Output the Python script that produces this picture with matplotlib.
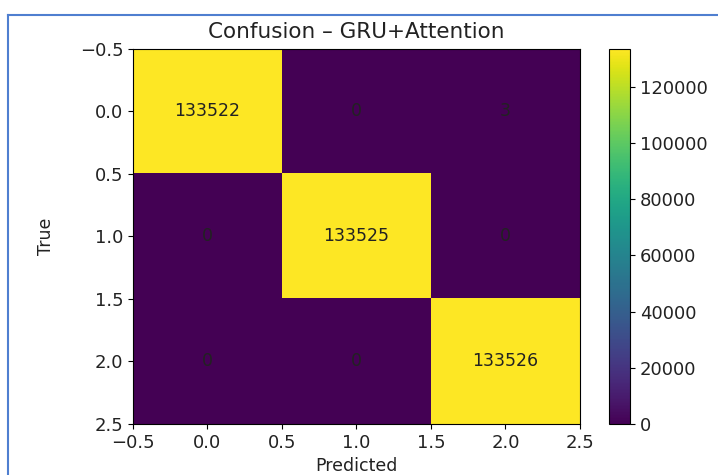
import numpy as np
import matplotlib
matplotlib.use("Agg")
import matplotlib.pyplot as plt
from matplotlib.lines import Line2D

# confusion matrix values (rows = true, cols = predicted)
row0 = [133522, 0, 3]
row1 = [0, 133525, 0]
row2 = [0, 0, 133526]
cm = np.array([row0, row1, row2])

fig = plt.figure(figsize=(7.18, 4.75), dpi=100)
ax = fig.add_axes([0.1852, 0.1074, 0.6226, 0.7895])
cax = fig.add_axes([0.8482, 0.1074, 0.0292, 0.7895])

im = ax.imshow(cm, cmap="viridis", aspect="auto")
for i in range(cm.shape[0]):
    for j in range(cm.shape[1]):
        ax.text(j, i, str(cm[i, j]), ha="center", va="center",
                color="#222222", fontsize=12.5)

ax.set_title("Confusion \u2013 GRU+Attention", fontsize=15.5, pad=8,
             color="#222222")
ax.set_xlabel("Predicted", fontsize=12.5, labelpad=4, color="#222222")
ax.set_ylabel("True", fontsize=12.5, labelpad=18, color="#222222")
ax.set_xticks(np.arange(-0.5, 2.6, 0.5))
ax.set_yticks(np.arange(-0.5, 2.6, 0.5))
ax.tick_params(labelsize=13, labelcolor="#222222")

cb = fig.colorbar(im, cax=cax)
cb.set_ticks([0, 20000, 40000, 60000, 80000, 100000, 120000])
cb.ax.tick_params(labelsize=13, labelcolor="#222222")

# screenshot frame
blue = "#4f7fd0"
fig.add_artist(Line2D([8 / 718, 8 / 718], [0, 1 - 15 / 475],
                      transform=fig.transFigure, color=blue, lw=1.5))
fig.add_artist(Line2D([8 / 718, 1], [1 - 15 / 475, 1 - 15 / 475],
                      transform=fig.transFigure, color=blue, lw=1.5))

fig.savefig("out.png", dpi=100)
